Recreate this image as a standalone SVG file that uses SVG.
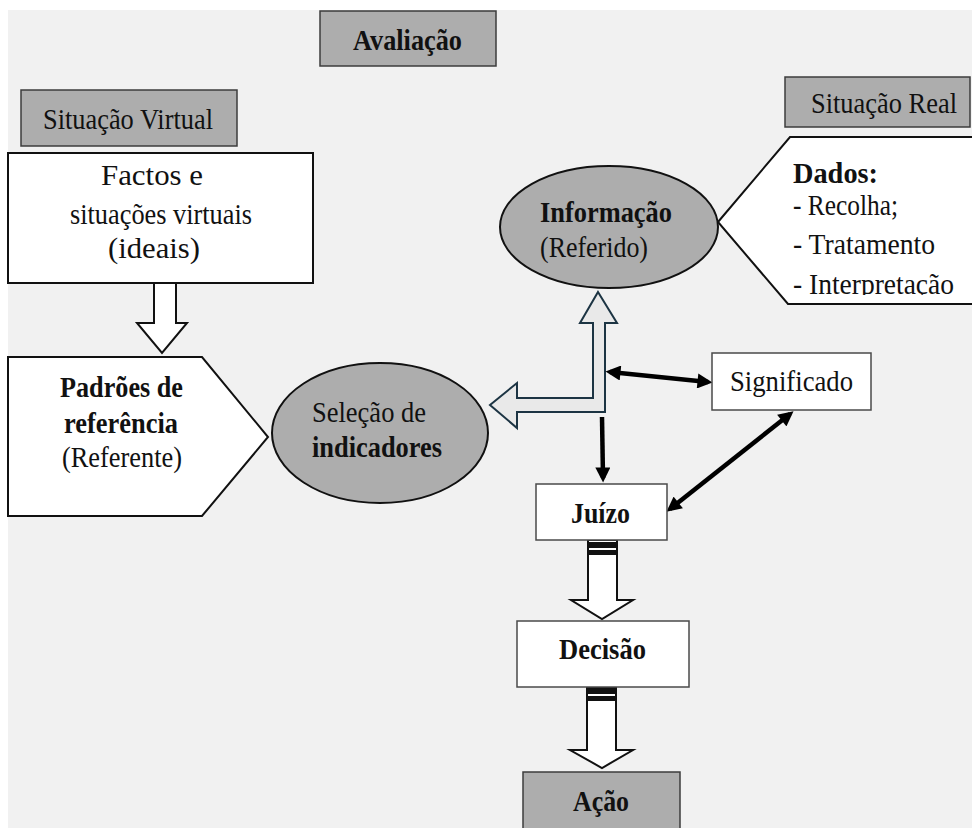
<svg xmlns="http://www.w3.org/2000/svg" width="972" height="828" viewBox="0 0 972 828">
<style>
text{font-family:'Times New Roman','Liberation Serif',Tinos,'Noto Serif','DejaVu Serif',serif;font-size:29px;fill:#111}
.b{font-weight:bold}
.gbox{fill:#adadad;stroke:#3c3c3c;stroke-width:1.5}
.wbox{fill:#fff;stroke:#4a4a4a;stroke-width:1.5}
.shape{fill:#fff;stroke:#111;stroke-width:2}
.ell{fill:#adadad;stroke:#111;stroke-width:2}
.blk{fill:#fff;stroke:#111;stroke-width:2;stroke-linejoin:miter}
.dbl{stroke:#000;stroke-width:4.5;fill:none}
</style>
<defs>
<marker id="ah" viewBox="0 0 10 10" refX="7" refY="5" markerUnits="userSpaceOnUse" markerWidth="16" markerHeight="15" orient="auto-start-reverse">
<path d="M0,0 L10,5 L0,10 Z" fill="#000"/>
</marker>
<clipPath id="dclip"><rect x="740" y="140" width="240" height="155"/></clipPath>
</defs>
<rect x="8" y="10" width="970" height="830" fill="#f1f1f1"/>

<g id="avaliacao">
<rect class="gbox" x="320" y="11" width="176" height="55"/>
<text class="b" x="353" y="50" textLength="109" lengthAdjust="spacingAndGlyphs">Avaliação</text>
</g>

<g id="situacao-virtual">
<rect class="gbox" x="21" y="90" width="216" height="56"/>
<text x="43" y="129" textLength="170" lengthAdjust="spacingAndGlyphs">Situação Virtual</text>
</g>

<g id="situacao-real">
<rect class="gbox" x="785" y="77" width="185" height="50"/>
<text x="811" y="113" textLength="146" lengthAdjust="spacingAndGlyphs">Situação Real</text>
</g>

<g id="connectors">
<polygon class="blk" points="154,283 176,283 176,323 187,323 162,353 137,323 154,323"/>
<path d="M598,292 L617,323 L605,323 L605,412 L517,412 L517,428 L490,405 L517,383 L517,398 L593,398 L593,323 L580,323 Z" fill="#e9e9e9" stroke="#1c3443" stroke-width="2" stroke-linejoin="miter"/>
<line class="dbl" x1="610" y1="372" x2="708" y2="382" marker-start="url(#ah)" marker-end="url(#ah)"/>
<line class="dbl" x1="602" y1="417" x2="603" y2="478" marker-end="url(#ah)"/>
<line class="dbl" x1="790" y1="414" x2="670" y2="509" marker-start="url(#ah)" marker-end="url(#ah)"/>
<polygon class="blk" points="588,540 617,540 617,600 633,600 602,619 571,600 588,600"/>
<rect x="588" y="542" width="29" height="6" fill="#111"/>
<rect x="588" y="550" width="29" height="5" fill="#111"/>
<polygon class="blk" points="587,687 616,687 616,750 633,750 602,768 570,750 587,750"/>
<rect x="587" y="688" width="29" height="6" fill="#111"/>
<rect x="587" y="696" width="29" height="5" fill="#111"/>
</g>

<g id="factos">
<rect class="shape" x="8" y="153" width="305" height="130"/>
<text x="101" y="185" textLength="102" lengthAdjust="spacingAndGlyphs">Factos e</text>
<text x="70" y="224" textLength="182" lengthAdjust="spacingAndGlyphs">situações virtuais</text>
<text x="108" y="258" textLength="92" lengthAdjust="spacingAndGlyphs">(ideais)</text>
</g>

<g id="padroes">
<polygon class="shape" points="8,357 202,357 268,437 202,516 8,516"/>
<text class="b" x="60" y="397" textLength="123" lengthAdjust="spacingAndGlyphs">Padrões de</text>
<text class="b" x="64" y="433" textLength="114" lengthAdjust="spacingAndGlyphs">referência</text>
<text x="62" y="467" textLength="120" lengthAdjust="spacingAndGlyphs">(Referente)</text>
</g>

<g id="selecao">
<ellipse class="ell" cx="380" cy="433" rx="108" ry="70"/>
<text x="312" y="422" textLength="114" lengthAdjust="spacingAndGlyphs">Seleção de</text>
<text class="b" x="312" y="457" textLength="130" lengthAdjust="spacingAndGlyphs">indicadores</text>
</g>

<g id="dados">
<polygon class="shape" points="718,222 790,137 980,137 980,304 788,304"/>
<g clip-path="url(#dclip)">
<text class="b" x="793" y="183" textLength="85" lengthAdjust="spacingAndGlyphs">Dados:</text>
<text x="793" y="215" textLength="105" lengthAdjust="spacingAndGlyphs">- Recolha;</text>
<text x="793" y="254" textLength="142" lengthAdjust="spacingAndGlyphs">- Tratamento</text>
<text x="793" y="294" textLength="161" lengthAdjust="spacingAndGlyphs">- Interpretação</text>
</g>
</g>

<g id="informacao">
<ellipse class="ell" cx="609" cy="227" rx="109" ry="61"/>
<text class="b" x="540" y="222" textLength="132" lengthAdjust="spacingAndGlyphs">Informação</text>
<text x="540" y="257" textLength="108" lengthAdjust="spacingAndGlyphs">(Referido)</text>
</g>

<g id="significado">
<rect class="wbox" x="712" y="353" width="159" height="57"/>
<text x="730" y="391" textLength="123" lengthAdjust="spacingAndGlyphs">Significado</text>
</g>

<g id="juizo">
<rect class="wbox" x="536" y="484" width="131" height="56"/>
<text class="b" x="571" y="523" textLength="59" lengthAdjust="spacingAndGlyphs">Juízo</text>
</g>

<g id="decisao">
<rect class="wbox" x="517" y="621" width="172" height="66"/>
<text class="b" x="559" y="659" textLength="87" lengthAdjust="spacingAndGlyphs">Decisão</text>
</g>

<g id="acao">
<rect class="gbox" x="523" y="772" width="157" height="70"/>
<text class="b" x="573" y="811" textLength="56" lengthAdjust="spacingAndGlyphs">Ação</text>
</g>
</svg>
